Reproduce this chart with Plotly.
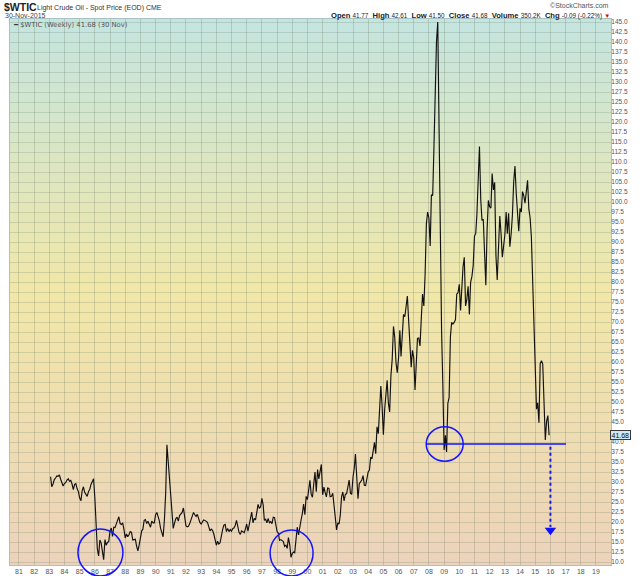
import pandas as pd
import plotly.graph_objects as go

# ---- data (monthly closes) ----
wtic_1983_1989 = [
    31.3, 28.8, 29.5, 30.6, 31.0, 31.5, 31.4, 31.8, 30.7, 29.8, 29.0, 29.6,
    29.9, 30.5, 30.8, 30.2, 30.4, 29.5, 28.1, 29.4, 29.6, 28.3, 27.6, 26.0,
    25.3, 27.8, 28.8, 27.4, 27.0, 26.4, 27.6, 28.2, 29.4, 30.2, 30.8, 26.0,
    18.8, 13.3, 11.5, 15.5, 14.8, 12.5, 10.6, 15.6, 14.2, 14.9, 15.1, 17.8,
    18.5, 16.4, 18.7, 18.6, 19.3, 20.4, 21.3, 19.6, 19.4, 19.8, 18.2, 16.0,
    17.0, 16.3, 16.8, 17.6, 17.4, 15.5, 15.6, 15.7, 14.0, 12.8, 14.2, 16.4,
    17.8, 18.2, 20.4, 20.6, 19.6, 20.2, 19.4, 18.7, 20.2, 19.8, 19.8, 21.8,
]
wtic_1990_1999 = [
    22.4, 21.5, 20.3, 18.4, 17.5, 16.3, 20.5, 27.3, 39.3, 35.2, 29.5, 27.2,
    21.2, 18.4, 19.7, 20.8, 21.2, 20.2, 21.6, 22.1, 22.4, 23.5, 21.5, 19.1,
    18.8, 18.9, 19.6, 20.6, 21.8, 22.4, 21.8, 21.4, 21.9, 20.6, 19.9, 19.5,
    20.2, 20.5, 20.4, 20.1, 19.9, 18.9, 17.8, 18.2, 17.9, 17.0, 15.4, 14.2,
    15.2, 14.5, 14.8, 16.8, 18.1, 19.2, 19.4, 17.6, 18.4, 17.6, 18.1, 17.7,
    18.4, 18.5, 19.2, 20.4, 18.9, 17.4, 16.9, 17.8, 17.6, 17.3, 18.2, 19.5,
    17.7, 19.5, 21.5, 22.5, 19.8, 20.9, 20.5, 22.3, 24.4, 23.4, 23.8, 25.9,
    24.2, 20.4, 20.7, 19.8, 20.9, 19.8, 20.1, 19.6, 21.2, 21.1, 19.2, 17.6,
    17.2, 15.4, 15.6, 15.3, 15.1, 13.9, 14.2, 13.4, 16.1, 14.4, 11.2, 12.1,
    12.5, 12.3, 16.8, 18.7, 16.8, 19.3, 20.5, 22.1, 24.5, 21.8, 26.4, 25.6,
]
wtic_2000_2009 = [
    27.6, 30.4, 26.9, 26.2, 29.5, 32.5, 27.6, 33.1, 30.8, 32.7, 34.4, 26.8,
    28.7, 27.4, 26.3, 28.5, 28.4, 26.3, 26.4, 27.2, 23.4, 21.2, 18.0, 19.8,
    19.5, 21.7, 26.3, 27.5, 25.3, 26.9, 27.1, 28.8, 30.5, 27.2, 26.9, 31.2,
    33.5, 37.0, 31.0, 25.8, 29.6, 30.2, 30.5, 31.6, 29.2, 29.1, 30.4, 32.5,
    33.0, 36.2, 35.8, 37.4, 39.9, 37.1, 43.8, 42.1, 49.6, 54.0, 49.1, 41.8,
    48.2, 51.7, 55.4, 49.7, 47.5, 56.5, 60.6, 68.9, 66.2, 59.8, 57.3, 61.0,
    67.9, 61.4, 66.6, 71.9, 71.3, 73.9, 76.5, 70.3, 62.9, 58.7, 62.9, 61.1,
    53.0, 61.8, 65.9, 66.0, 64.0, 70.7, 77.0, 74.0, 81.7, 94.5, 97.5, 96.0,
    89.0, 101.8, 101.6, 113.5, 127.4, 140.0, 145.0, 115.5, 100.6, 67.8, 54.4, 38.0,
    41.7, 37.5, 49.7, 51.1, 66.3, 69.9, 69.5, 69.9, 70.6, 77.0, 77.3, 79.4,
]
wtic_2010_2015 = [
    72.9, 79.7, 83.8, 86.2, 74.0, 75.6, 78.9, 71.9, 80.0, 81.4, 84.1, 91.4,
    92.2, 97.0, 106.7, 113.9, 100.6, 95.4, 95.7, 88.8, 79.2, 93.2, 100.4, 98.8,
    98.5, 107.1, 103.0, 104.9, 86.5, 80.5, 88.1, 96.5, 92.2, 86.2, 88.9, 91.8,
    97.5, 92.1, 97.2, 88.8, 92.0, 96.6, 105.0, 109.0, 102.3, 96.4, 92.7, 98.4,
    97.5, 102.6, 101.6, 99.7, 102.7, 105.4, 98.2, 96.0, 91.2, 80.5, 66.2, 53.3,
    48.2, 49.8, 44.8, 59.6, 60.3, 59.5, 47.1, 40.5, 45.1, 46.6, 41.68,
]
last_close = 41.68
support_level = 39.5
target_level = 15.75

year_ticks = list(range(1981, 2020))
year_labels = ["81", "82", "83", "84", "85", "86", "87", "88", "89", "90",
               "91", "92", "93", "94", "95", "96", "97", "98", "99", "00",
               "01", "02", "03", "04", "05", "06", "07", "08", "09", "10",
               "11", "12", "13", "14", "15", "16", "17", "18", "19"]
price_ticks = [10 + 2.5 * i for i in range(55)]
# the 42.5 label sits under the last-price tag
price_labels = ["" if v == 42.5 else "%.1f" % v for v in price_ticks]

prices = wtic_1983_1989 + wtic_1990_1999 + wtic_2000_2009 + wtic_2010_2015
dates = pd.date_range("1983-01-31", periods=len(prices), freq="ME")

# ---- layout helpers (pixel -> paper) ----
L, R, T, B = 10, 29, 19, 11
PW, PH = 640 - L - R, 576 - T - B


def px_x(px):
    return (px - L) / PW


def px_y(py):
    return (576 - B - py) / PH


fig = go.Figure()
fig.add_trace(go.Scatter(x=dates, y=prices, mode="lines",
                         line=dict(color="#111111", width=1.15),
                         showlegend=False, hoverinfo="x+y"))

# arrow head of the projected target
fig.add_trace(go.Scatter(x=[pd.Timestamp("2016-01-01")], y=[target_level + 2.2],
                         mode="markers",
                         marker=dict(symbol="triangle-down", size=10, color="#1010ff"),
                         showlegend=False, hoverinfo="skip"))

# ---- background gradient ----
stops = [(0.0, (236, 211, 187)), (0.5, (241, 231, 168)), (1.0, (196, 229, 224))]
shapes = []
n_bands = 80
for i in range(n_bands):
    y0 = i / n_bands
    y1 = (i + 1) / n_bands
    m = (y0 + y1) / 2
    for (a, ca), (b, cb) in zip(stops[:-1], stops[1:]):
        if a <= m <= b:
            f = (m - a) / (b - a)
            c = [round(ca[k] + (cb[k] - ca[k]) * f) for k in range(3)]
            break
    shapes.append(dict(type="rect", xref="paper", yref="paper", x0=0, x1=1,
                       y0=y0, y1=y1 + 0.002, fillcolor="rgb(%d,%d,%d)" % tuple(c),
                       line=dict(width=0), layer="below"))

blue = "#1515ff"
# circles round the lows
shapes.append(dict(type="circle", xref="x", yref="paper", x0="1984-11-20", x1="1987-11-06",
                   y0=px_y(576), y1=px_y(529), line=dict(color=blue, width=1.5)))
shapes.append(dict(type="circle", xref="x", yref="paper", x0="1997-07-16", x1="2000-05-15",
                   y0=px_y(576), y1=px_y(530), line=dict(color=blue, width=1.5)))
shapes.append(dict(type="circle", xref="x", yref="y", x0="2007-10-27", x1="2010-04-04",
                   y0=35.2, y1=43.8, line=dict(color=blue, width=1.5)))
# support line and dotted projection
shapes.append(dict(type="line", xref="x", yref="y", x0="2007-10-27", x1="2017-01-10",
                   y0=support_level, y1=support_level, line=dict(color=blue, width=1.5)))
shapes.append(dict(type="line", xref="x", yref="y", x0="2016-01-01", x1="2016-01-01",
                   y0=support_level - 0.7, y1=target_level + 3,
                   line=dict(color=blue, width=2, dash="dot")))

fig.update_layout(shapes=shapes)

# ---- texts ----
grey = "#555555"
ann = []
ann.append(dict(x=px_x(2), y=px_y(7), text="<b>$WTIC</b>", font=dict(family="Liberation Sans", size=10.5, color="#222")))
ann.append(dict(x=px_x(35), y=px_y(7.5), text="Light Crude Oil - Spot Price (EOD) CME",
                font=dict(family="Liberation Sans", size=7, color="#333")))
ann.append(dict(x=px_x(3), y=px_y(15.5), text="30-Nov-2015", font=dict(family="Liberation Sans", size=7, color="#444")))
ann.append(dict(x=px_x(11), y=px_y(25), text="<span style='color:#333'>━</span> $WTIC (Weekly) 41.68 (30 Nov)",
                font=dict(family="DejaVu Sans", size=6.8, color=grey)))
for a in ann:
    a.update(xref="paper", yref="paper", xanchor="left", yanchor="middle", showarrow=False)

hdr = ("<b>Open</b> <span style='font-size:6.3px'>41.77</span>  <b>High</b> <span style='font-size:6.3px'>42.61</span>  "
       "<b>Low</b> <span style='font-size:6.3px'>41.50</span>  <b>Close</b> <span style='font-size:6.3px'>41.68</span>  "
       "<b>Volume</b> <span style='font-size:6.3px'>350.2K</span>  <b>Chg</b> <span style='font-size:6.3px'>-0.09 (-0.22%)</span> "
       "<span style='color:#dd0000;font-size:6px'>▼</span>")
right_ann = [
    dict(x=px_x(611), y=px_y(5), text="©StockCharts.com", font=dict(family="Liberation Sans", size=7, color=grey)),
    dict(x=px_x(612), y=px_y(15.5), text=hdr, font=dict(family="Liberation Sans", size=7.6, color="#222")),
]
for a in right_ann:
    a.update(xref="paper", yref="paper", xanchor="right", yanchor="middle", showarrow=False)
ann += right_ann

# last price tag on the axis
ann.append(dict(xref="paper", yref="y", x=px_x(610), y=last_close, text="41.68",
                xanchor="left", yanchor="middle", showarrow=False,
                bgcolor="#cfeaf2", bordercolor="#3a3a3a", borderwidth=1, borderpad=0.5,
                font=dict(family="Liberation Sans", size=7, color="#111")))

fig.update_layout(annotations=ann)

fig.update_xaxes(type="date", range=["1980-05-30", "2019-12-28"],
                 tickvals=[pd.Timestamp(f"{y}-01-01") for y in year_ticks], ticktext=year_labels,
                 showgrid=True, gridcolor="rgba(105,120,95,0.26)", gridwidth=1,
                 tickfont=dict(family="Liberation Sans", size=7, color=grey),
                 ticks="", showline=True, linecolor="#a8c2c8", mirror=True, zeroline=False,
                 automargin=False)
fig.update_yaxes(range=[9.25, 145.75], side="right", tickvals=price_ticks, ticktext=price_labels,
                 showgrid=True, gridcolor="rgba(105,120,95,0.22)", gridwidth=1,
                 tickfont=dict(family="Liberation Sans", size=6.5, color=grey),
                 ticks="", ticklabelstandoff=-2, showline=True, linecolor="#a8c2c8", mirror=True,
                 zeroline=False, automargin=False)

fig.update_layout(width=640, height=576, margin=dict(l=L, r=R, t=T, b=B),
                  paper_bgcolor="white", plot_bgcolor="rgba(0,0,0,0)",
                  showlegend=False)

fig.write_html("out.html", config={"displayModeBar": False},
               post_script="document.body.style.margin='0';document.body.style.padding='0';")
